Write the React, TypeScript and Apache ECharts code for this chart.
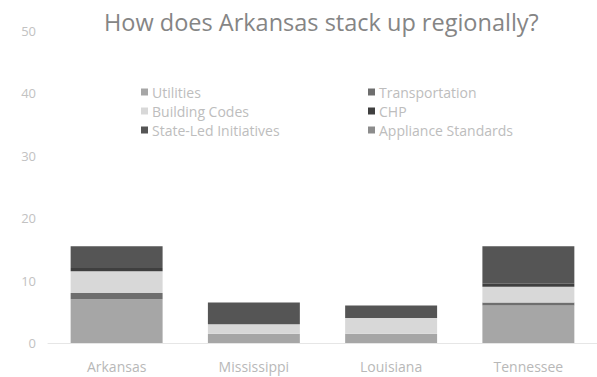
import React, { useEffect, useRef } from "react";
import * as echarts from "echarts";

const categories = ["Arkansas", "Mississippi", "Louisiana", "Tennessee"];
const seriesNames = [
  "Utilities",
  "Transportation",
  "Building Codes",
  "CHP",
  "State-Led Initiatives",
  "Appliance Standards",
];
const utilities = [7, 1.5, 1.5, 6];
const transportation = [1, 0, 0, 0.5];
const buildingCodes = [3.5, 1.5, 2.5, 2.5];
const chp = [0.5, 0, 0, 0.5];
const stateLed = [3.5, 3.5, 2, 6];
const applianceStandards = [0, 0, 0, 0];
const yTicks = [0, 10, 20, 30, 40, 50];

const colors = ["#a6a6a6", "#6e6e6e", "#d8d8d8", "#3f3f3f", "#555555", "#8c8c8c"];

export default function App() {
  const ref = useRef<HTMLDivElement>(null);
  useEffect(() => {
    if (!ref.current) return;
    const chart = echarts.init(ref.current, null, { renderer: "svg" });
    const values = [utilities, transportation, buildingCodes, chp, stateLed, applianceStandards];
    const legendText = { color: "#bdbdbd", fontSize: 14, fontFamily: "Open Sans", padding: [0, 0, 0, -1] };
    chart.setOption({
      animation: false,
      title: {
        text: "How does Arkansas stack up regionally?",
        left: 99,
        top: 5,
        textStyle: { color: "#858585", fontSize: 23.5, fontWeight: "normal", fontFamily: "Open Sans" },
      },
      legend: [
        {
          data: [seriesNames[0], seriesNames[2], seriesNames[4]],
          orient: "vertical",
          left: 136,
          top: 80,
          itemWidth: 7,
          itemHeight: 7,
          itemGap: 5,
          icon: "rect",
          textStyle: legendText,
        },
        {
          data: [seriesNames[1], seriesNames[3], seriesNames[5]],
          orient: "vertical",
          left: 363,
          top: 80,
          itemWidth: 7,
          itemHeight: 7,
          itemGap: 5,
          icon: "rect",
          textStyle: legendText,
        },
      ],
      grid: { left: 48, top: 31, width: 568, height: 312, containLabel: false },
      xAxis: {
        type: "category",
        data: categories,
        axisLine: { lineStyle: { color: "#e6e6e6" } },
        axisTick: { show: false },
        axisLabel: { color: "#b8b8b8", fontSize: 14, fontFamily: "Open Sans", margin: 16 },
      },
      yAxis: {
        type: "value",
        min: 0,
        max: 50,
        interval: 10,
        axisLine: { show: false },
        axisTick: { show: false },
        splitLine: { show: false },
        axisLabel: {
          color: "#c2c2c2",
          fontSize: 13,
          fontFamily: "Open Sans",
          margin: 12,
          formatter: (v: number) => (yTicks.includes(v) ? String(v) : ""),
        },
      },
      series: seriesNames.map((name, i) => ({
        name,
        type: "bar",
        stack: "total",
        barCategoryGap: "33%",
        data: values[i],
        itemStyle: { color: colors[i] },
      })),
    });
    return () => chart.dispose();
  }, []);
  return (
    <div
      ref={ref}
      style={{ position: "fixed", left: 0, top: 0, width: 597, height: 377, background: "#fff" }}
    />
  );
}
